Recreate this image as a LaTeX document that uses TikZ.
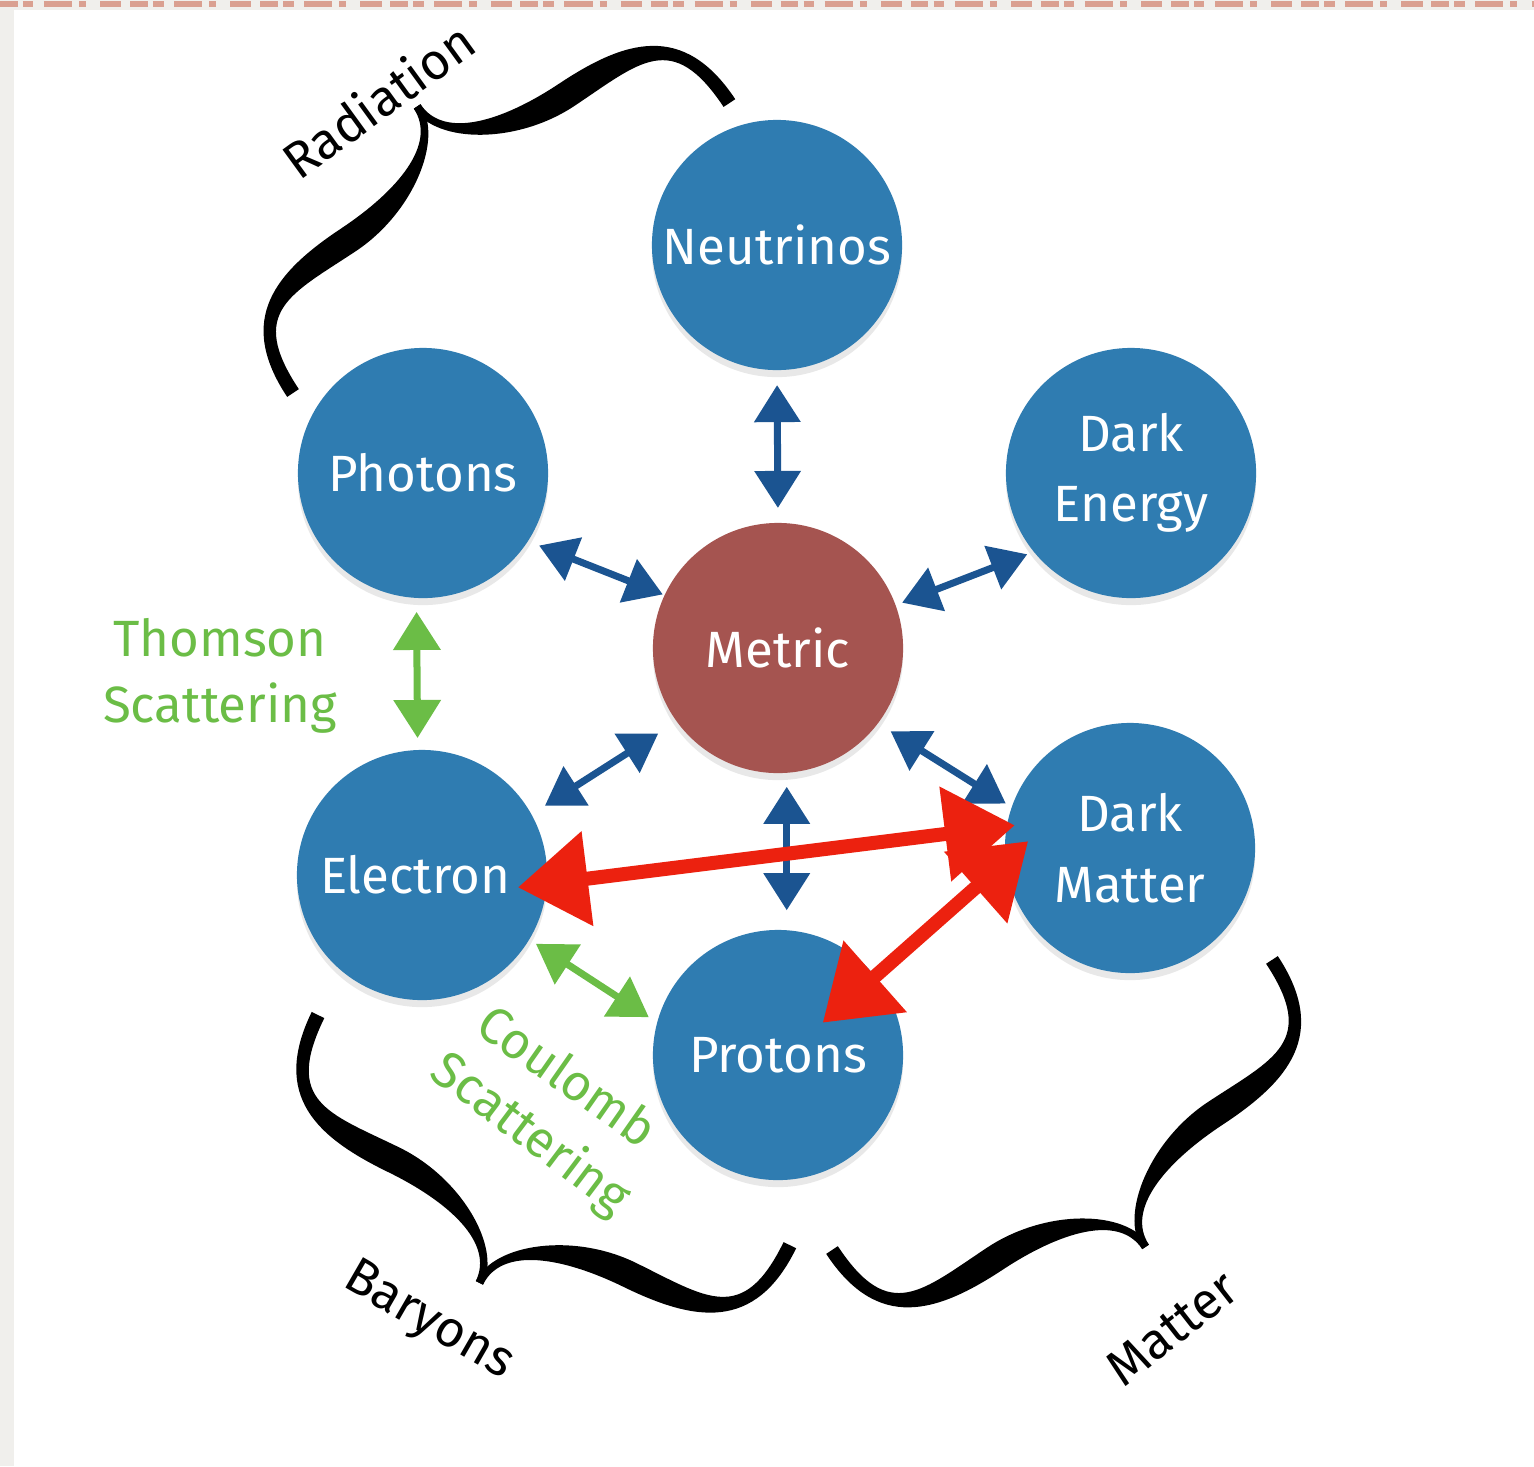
\documentclass[tikz,border=0pt]{standalone}
\usepackage{fontspec}
\setmainfont{Fira Sans}
\usetikzlibrary{arrows.meta,shadows}

\definecolor{ballblue}{RGB}{47,124,177}
\definecolor{metricred}{RGB}{165,84,80}
\definecolor{linkblue}{RGB}{27,84,145}
\definecolor{linkgreen}{RGB}{107,189,70}
\definecolor{linkred}{RGB}{236,33,15}
\definecolor{paper}{RGB}{240,239,236}
\definecolor{paperdash}{RGB}{218,160,145}

% calligraphic curly brace: start point, angle, span L, signed depth h
\newcommand{\calbrace}[5]{%
\begin{scope}[shift={(#1,#2)},rotate=#3]
  \pgfmathsetmacro{\bL}{#4}
  \pgfmathsetmacro{\bh}{#5}
  \pgfmathsetmacro{\bs}{#5>0 ? 13.5 : -13.5}
  \pgfmathsetmacro{\mo}{0.57*\bh+\bs}
  \pgfmathsetmacro{\mi}{0.57*\bh-\bs}
  \pgfmathsetmacro{\bq}{0.25*\bL}
  \foreach \mirror in {1,-1}{
    \begin{scope}[shift={({0.5*\bL*(1-\mirror)},0)},xscale=\mirror]
      \fill[black] (-7,0) .. controls (-7,{0.55*\bh}) and ({0.1*\bL},\mo) .. (\bq,\mo)
        .. controls ({0.38*\bL},\mo) and ({0.5*\bL-4},{0.75*\bh}) .. ({0.5*\bL-4},\bh)
        -- ({0.5*\bL+4},\bh)
        .. controls ({0.5*\bL+4},{0.75*\bh}) and ({0.38*\bL},\mi) .. (\bq,\mi)
        .. controls ({0.1*\bL},\mi) and (7,{0.55*\bh}) .. (7,0) -- cycle;
    \end{scope}
  }
\end{scope}}

\tikzset{
  ball/.style={circle, fill=ballblue, minimum size=2.5cm, inner sep=0pt, outer sep=0pt,
    text=white, font=\fontsize{14.5}{20}\selectfont, align=center,
    drop shadow={opacity=0.18, shadow xshift=0pt, shadow yshift=-2pt}},
  metricball/.style={ball, fill=metricred},
  bluelink/.style={draw=linkblue, line width=0.07cm,
    {Triangle[length=0.37cm,width=0.45cm]}-{Triangle[length=0.37cm,width=0.45cm]}},
  greenlink/.style={draw=linkgreen, line width=0.07cm,
    {Triangle[length=0.38cm,width=0.46cm]}-{Triangle[length=0.38cm,width=0.46cm]}},
  redlink/.style={draw=linkred, line width=0.14cm,
    {Triangle[length=0.70cm,width=0.92cm]}-{Triangle[length=0.70cm,width=0.92cm]}},
  greentext/.style={text=linkgreen, font=\fontsize{14.5}{20}\selectfont},
  bracetext/.style={text=black, font=\fontsize{14.5}{20}\selectfont},
}

\begin{document}
\begin{tikzpicture}[x=0.01cm, y=-0.01cm]
  \useasboundingbox (0,0) rectangle (1534,1466);
  % paper and page
  \fill[paper] (0,0) rectangle (1534,1466);
  \fill[white] (14,10) rectangle (1534,1466);
  \draw[paperdash, line width=1.6pt,
    dash pattern=on 5pt off 1.5pt on 3pt off 3pt on 8pt off 2pt on 2pt off 4pt on 6pt off 2.5pt]
    (0,4) -- (1534,4);

  % braces and their labels
  \calbrace{293}{393}{33.6}{524}{-170}
  \calbrace{318}{1015}{-26}{525}{170}
  \calbrace{832}{1250}{33.4}{527}{170}
  \node[bracetext, rotate=36] (radiation) at (378,100) {Radiation};
  \node[bracetext, rotate=-30] (baryons) at (428,1322) {Baryons};
  \node[bracetext, rotate=38] (matter) at (1172,1328) {Matter};

  % components
  \node[ball] (N) at (777,245) {Neutrinos};
  \node[ball] (P) at (423,473) {Photons};
  \node[ball] (DE) at (1131,473) {Dark\\Energy};
  \node[metricball] (M) at (778,648) {Metric};
  \node[ball] (E) at (422,875) {\hspace*{-0.14cm}Electron};
  \node[ball] (DM) at (1130,848) {Dark\\Matter};
  \node[ball] (Pr) at (778,1055) {Protons};

  % gravitational couplings
  \draw[bluelink, shorten <=0.15cm, shorten >=0.15cm] (N.-90) -- (M.90);
  \draw[bluelink, shorten <=0.12cm, shorten >=0.02cm] (P.-33) -- (M.155);
  \draw[bluelink, shorten <=0.07cm, shorten >=0.07cm] (DE.-141.5) -- (M.20);
  \draw[bluelink, shorten <=0.16cm, shorten >=0.22cm] (E.29.6) -- (M.-144.7);
  \draw[bluelink, shorten <=0.15cm, shorten >=0.07cm] (M.-37) -- (DM.161);
  \draw[bluelink, shorten <=0.14cm, shorten >=0.20cm] (M.-86.7) -- (Pr.86.8);

  % scattering
  \draw[greenlink, shorten <=0.14cm, shorten >=0.12cm] (P.-93) -- (E.92.5);
  \draw[greenlink, shorten <=0.08cm, shorten >=0.10cm] (E.-31.8) -- (Pr.165);
  \node[greentext] (thomson) at (220,638) {Thomson};
  \node[greentext] (thomsonB) at (220,708) {Scattering};
  \node[greentext, rotate=-35] (coulomb) at (568,1075) {Coulomb};
  \node[greentext, rotate=-37] (coulombB) at (530,1135) {Scattering};

  % dark matter couplings
  \draw[redlink, shorten <=-0.29cm, shorten >=-0.08cm] (E.-4) -- (DM.170);
  \draw[redlink, shorten <=-0.30cm, shorten >=-0.70cm] (DM.-174) -- (Pr.39.8);
\end{tikzpicture}
\end{document}
